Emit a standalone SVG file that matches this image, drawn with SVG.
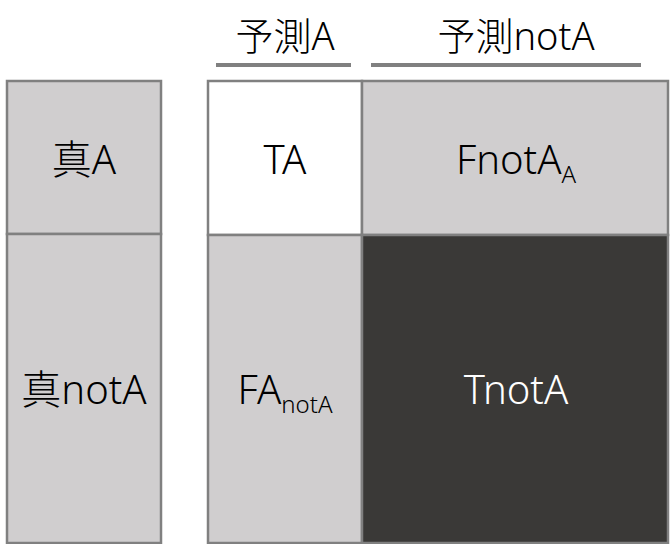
<svg xmlns="http://www.w3.org/2000/svg" width="670" height="544" viewBox="0 0 670 544">
<style>
.cell{stroke:#808080;stroke-width:2.5}
.light{fill:#D0CECF}
.white{fill:#FFFFFF}
.dark{fill:#3A3937}
.t{font-family:"Noto Sans","Noto Sans CJK JP",sans-serif;font-size:40px;font-weight:300;text-anchor:middle;fill:#000}
.h{font-family:"Noto Sans","Noto Sans CJK JP",sans-serif;font-size:38px;font-weight:300;text-anchor:middle;fill:#000}
.w{fill:#FFFFFF}
.rule{stroke:#808080;stroke-width:4}
</style>
<rect width="670" height="544" fill="#FFFFFF"/>
<g id="header-predA">
<text class="h" x="285" y="50">予測A</text>
<line class="rule" x1="216" y1="65" x2="351" y2="65"/>
</g>
<g id="header-prednotA">
<text class="h" x="516" y="50">予測notA</text>
<line class="rule" x1="371" y1="65" x2="641" y2="65"/>
</g>
<g id="trueA">
<rect class="cell light" x="7" y="81" width="154" height="153"/>
<text class="t" x="84" y="174">真A</text>
</g>
<g id="truenotA">
<rect class="cell light" x="7" y="234" width="154" height="309"/>
<text class="t" x="84" y="404">真notA</text>
</g>
<g id="TA">
<rect class="cell white" x="208" y="81" width="154" height="154"/>
<text class="t" x="285" y="174">TA</text>
</g>
<g id="FnotA_A">
<rect class="cell light" x="362" y="81" width="306" height="154"/>
<text class="t" x="516" y="174">FnotA<tspan font-size="24" dy="9">A</tspan></text>
</g>
<g id="FA_notA">
<rect class="cell light" x="208" y="235" width="154" height="308"/>
<text class="t" x="285" y="404">FA<tspan font-size="24" dy="9">notA</tspan></text>
</g>
<g id="TnotA">
<rect class="cell dark" x="362" y="235" width="306" height="308"/>
<text class="t w" x="516" y="404">TnotA</text>
</g>
<g id="connectors"/>
</svg>
